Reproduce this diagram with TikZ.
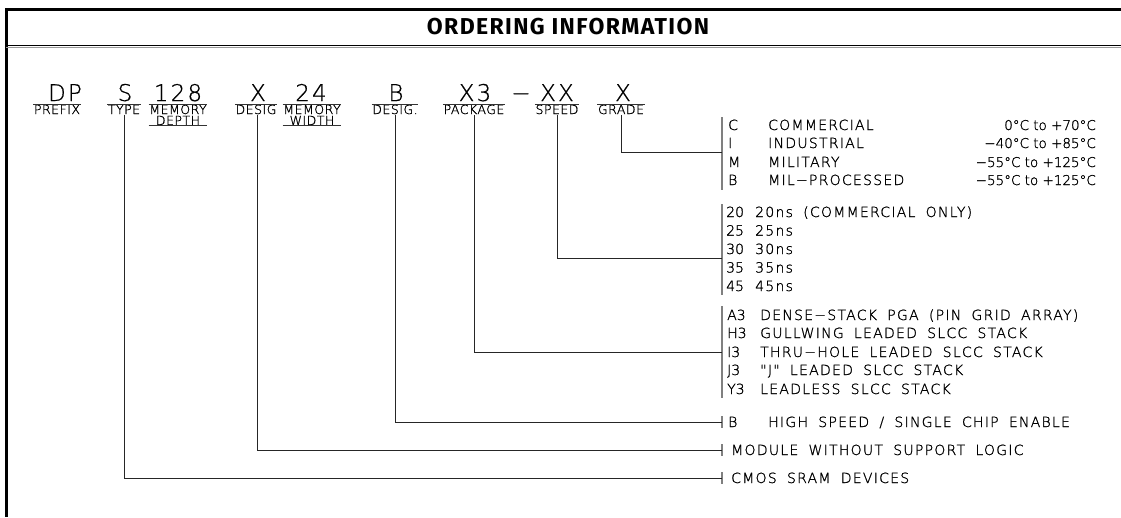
\documentclass[tikz,border=0pt]{standalone}
\usepackage{fontspec}
\newfontfamily\cad[LetterSpace=9,WordSpace=1.8,FakeBold=1.2]{DejaVu Sans ExtraLight}
\newfontfamily\cadcode[LetterSpace=9.5,FakeBold=0.6]{DejaVu Sans ExtraLight}
\newfontfamily\cadlab[LetterSpace=4,FakeBold=1.2]{DejaVu Sans ExtraLight}
\newfontfamily\cadplain[FakeBold=1.2]{DejaVu Sans ExtraLight}
\newfontfamily\ttl[LetterSpace=6]{Fira Sans}
\tikzset{
  code/.style={font=\cadcode\fontsize{23}{23}\selectfont, inner sep=0pt, anchor=base},
  lab/.style={font=\cadlab\fontsize{12.5}{12.5}\selectfont, inner sep=0.5pt, anchor=base},
  leg/.style={font=\cad\fontsize{14}{14}\selectfont, inner sep=0pt, anchor=base west},
  legcode/.style={font=\cadplain\fontsize{14}{14}\selectfont, inner sep=0pt, anchor=base west},
  tmp/.style={font=\cadplain\fontsize{13.5}{14}\selectfont, inner sep=0pt, anchor=base east},
  lead/.style={draw=black!85, line width=1pt},
  bar/.style={draw=black!50, line width=1.1pt},
  rule/.style={draw=black!80, line width=0.9pt},
  frame/.style={draw=black, line width=3pt}
}
\begin{document}
\begin{tikzpicture}[x=1pt,y=-1pt]
\useasboundingbox (0,0) rectangle (1121,517);
% frame
\draw[frame] (1121,9) -- (6,9) -- (6,517);
\draw[draw=black, line width=1.6pt] (6,45.5) -- (1121,45.5);
\draw[draw=black!40, line width=0.8pt] (6,47.5) -- (1121,47.5);
\node[font=\ttl\bfseries\fontsize{23}{23}\selectfont, inner sep=0pt] (title) at (568,27) {ORDERING INFORMATION};

% code row
\node[code] (cDP) at (65,101) {DP};
\node[code] (cS) at (125,101) {S};
\node[code] (c128) at (178,101) {128};
\node[code] (cX1) at (258,101) {X};
\node[code] (c24) at (311,101) {24};
\node[code] (cB) at (396,101) {B};
\node[code] (cX3) at (475,101) {X3};
\node[code] (cdash) at (521,101) {−};
\node[code] (cXX) at (557,101) {XX};
\node[code] (cX2) at (623,101) {X};

% labels
\node[lab] (lPre) at (57,114) {PREFIX};
\node[lab] (lType) at (124,114) {TYPE};
\node[lab] (lMem) at (178,114) {MEMORY};
\node[lab] (lDep) at (178,125) {DEPTH};
\node[lab] (lDes) at (256,114) {DESIG};
\node[lab] (lMem2) at (312,114) {MEMORY};
\node[lab] (lWid) at (312,125) {WIDTH};
\node[lab] (lDes2) at (395,114) {DESIG.};
\node[lab] (lPkg) at (474,114) {PACKAGE};
\node[lab] (lSpd) at (557,114) {SPEED};
\node[lab] (lGrd) at (621,114) {GRADE};
\foreach \n in {lPre,lType,lMem,lDes,lMem2,lDes2,lPkg,lSpd,lGrd}
  \draw[rule] (\n.north west) -- (\n.north east);
\draw[rule] (lMem.north west |- lDep.south) -- (lMem.north east |- lDep.south);
\draw[rule] (lMem2.north west |- lWid.south) -- (lMem2.north east |- lWid.south);

% legend bars
\draw[bar] (722,117) -- (722,190);
\draw[bar] (722,204) -- (722,295);
\draw[bar] (722,306) -- (722,398);
\draw[bar] (722,416) -- (722,428);
\draw[bar] (722,444) -- (722,456);
\draw[bar] (722,472) -- (722,484);
\coordinate (gGrd) at (722,152);
\coordinate (gSpd) at (722,258);
\coordinate (gPkg) at (722,352);
\coordinate (gB) at (722,422);
\coordinate (gDes) at (722,450);
\coordinate (gType) at (722,478);

% connectors
\draw[lead] (lGrd.south) |- (gGrd);
\draw[lead] (lSpd.south) |- (gSpd);
\draw[lead] (lPkg.south) |- (gPkg);
\draw[lead] (lDes2.south) |- (gB);
\draw[lead] (lDes.south -| 257,0) |- (gDes);
\draw[lead] (lType.south) |- (gType);

% grade rows
\node[legcode] (g1) at (728,130) {C};
\node[leg] (g1d) at (768,130) {COMMERCIAL};
\node[tmp] (g1t) at (1096,130) {0°C to +70°C};
\node[legcode] (g2) at (728,148) {I};
\node[leg] (g2d) at (768,148) {INDUSTRIAL};
\node[tmp] (g2t) at (1096,148) {−40°C to +85°C};
\node[legcode] (g3) at (728,167) {M};
\node[leg] (g3d) at (768,167) {MILITARY};
\node[tmp] (g3t) at (1096,167) {−55°C to +125°C};
\node[legcode] (g4) at (728,185) {B};
\node[leg] (g4d) at (768,185) {MIL−PROCESSED};
\node[tmp] (g4t) at (1096,185) {−55°C to +125°C};

% speed rows
\node[legcode] (s1) at (726,217) {20};
\node[leg] (s1d) at (755,217) {20ns (COMMERCIAL ONLY)};
\node[legcode] (s2) at (726,235.5) {25};
\node[leg] (s2d) at (755,235.5) {25ns};
\node[legcode] (s3) at (726,254) {30};
\node[leg] (s3d) at (755,254) {30ns};
\node[legcode] (s4) at (726,272.5) {35};
\node[leg] (s4d) at (755,272.5) {35ns};
\node[legcode] (s5) at (726,291) {45};
\node[leg] (s5d) at (755,291) {45ns};

% package rows
\node[legcode] (p1) at (727,320) {A3};
\node[leg] (p1d) at (760,320) {DENSE−STACK PGA (PIN GRID ARRAY)};
\node[legcode] (p2) at (727,338) {H3};
\node[leg] (p2d) at (760,338) {GULLWING LEADED SLCC STACK};
\node[legcode] (p3) at (727,357) {I3};
\node[leg] (p3d) at (760,357) {THRU−HOLE LEADED SLCC STACK};
\node[legcode] (p4) at (727,375) {J3};
\node[leg] (p4d) at (760,375) {"J" LEADED SLCC STACK};
\node[legcode] (p5) at (727,394) {Y3};
\node[leg] (p5d) at (760,394) {LEADLESS SLCC STACK};

% single rows
\node[legcode] (b1) at (728,427) {B};
\node[leg] (b1d) at (768,427) {HIGH SPEED / SINGLE CHIP ENABLE};
\node[leg] (m1) at (731,455) {MODULE WITHOUT SUPPORT LOGIC};
\node[leg] (t1) at (731,483) {CMOS SRAM DEVICES};
\end{tikzpicture}
\end{document}
